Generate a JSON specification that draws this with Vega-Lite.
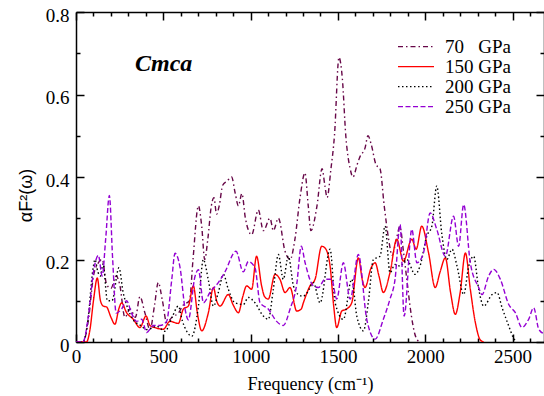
{
"$schema": "https://vega.github.io/schema/vega-lite/v6.json",
"width": 468, "height": 330,
"autosize": {"type": "none"},
"padding": {"left": 76, "top": 12, "right": 0, "bottom": 54},
"background": "white",
"config": {
  "view": {"stroke": null},
  "axis": {"grid": false, "domainColor": "black", "tickColor": "black", "labelColor": "black", "titleColor": "black", "domainWidth": 1.5, "tickWidth": 1.5, "labelFont": "Liberation Serif", "labelFontSize": 19, "titleFont": "Liberation Serif", "titleFontSize": 18, "titleFontWeight": "normal", "labelFlush": false, "labelOverlap": false},
  "legend": {"orient": "none", "legendX": 321, "legendY": 25.5, "symbolType": "stroke", "symbolSize": 1296, "symbolStrokeWidth": 1.4, "labelFont": "Liberation Serif", "labelFontSize": 19, "labelColor": "black", "labelOffset": 10, "clipHeight": 18.3, "rowPadding": 0, "padding": 0, "labelLimit": 300, "title": null}
},
"datasets": {
 "d": [
{"p":70,"x":0,"y":0},{"p":70,"x":40,"y":0},{"p":70,"x":70,"y":0.05},{"p":70,"x":100,"y":0.16},{"p":70,"x":125,"y":0.19},{"p":70,"x":150,"y":0.2},{"p":70,"x":175,"y":0.14},{"p":70,"x":200,"y":0.13},{"p":70,"x":230,"y":0.16},{"p":70,"x":250,"y":0.14},{"p":70,"x":280,"y":0.06},{"p":70,"x":310,"y":0.08},{"p":70,"x":340,"y":0.06},{"p":70,"x":366,"y":0.11},{"p":70,"x":395,"y":0.07},{"p":70,"x":424,"y":0.03},{"p":70,"x":450,"y":0.09},{"p":70,"x":471,"y":0.144},{"p":70,"x":495,"y":0.1},{"p":70,"x":519,"y":0.047},{"p":70,"x":550,"y":0.06},{"p":70,"x":586,"y":0.07},{"p":70,"x":615,"y":0.09},{"p":70,"x":650,"y":0.1},{"p":70,"x":670,"y":0.2},{"p":70,"x":701,"y":0.33},{"p":70,"x":720,"y":0.28},{"p":70,"x":737,"y":0.2},{"p":70,"x":755,"y":0.25},{"p":70,"x":775,"y":0.33},{"p":70,"x":790,"y":0.35},{"p":70,"x":805,"y":0.31},{"p":70,"x":820,"y":0.33},{"p":70,"x":840,"y":0.38},{"p":70,"x":865,"y":0.39},{"p":70,"x":891,"y":0.4},{"p":70,"x":912,"y":0.36},{"p":70,"x":930,"y":0.33},{"p":70,"x":950,"y":0.36},{"p":70,"x":970,"y":0.3},{"p":70,"x":1006,"y":0.26},{"p":70,"x":1044,"y":0.32},{"p":70,"x":1073,"y":0.27},{"p":70,"x":1111,"y":0.3},{"p":70,"x":1130,"y":0.27},{"p":70,"x":1159,"y":0.3},{"p":70,"x":1197,"y":0.22},{"p":70,"x":1226,"y":0.2},{"p":70,"x":1254,"y":0.25},{"p":70,"x":1283,"y":0.35},{"p":70,"x":1311,"y":0.41},{"p":70,"x":1330,"y":0.33},{"p":70,"x":1345,"y":0.27},{"p":70,"x":1380,"y":0.33},{"p":70,"x":1409,"y":0.42},{"p":70,"x":1425,"y":0.38},{"p":70,"x":1438,"y":0.35},{"p":70,"x":1460,"y":0.42},{"p":70,"x":1480,"y":0.5},{"p":70,"x":1506,"y":0.69},{"p":70,"x":1525,"y":0.64},{"p":70,"x":1545,"y":0.5},{"p":70,"x":1570,"y":0.42},{"p":70,"x":1586,"y":0.4},{"p":70,"x":1610,"y":0.43},{"p":70,"x":1627,"y":0.45},{"p":70,"x":1655,"y":0.47},{"p":70,"x":1672,"y":0.5},{"p":70,"x":1690,"y":0.48},{"p":70,"x":1718,"y":0.43},{"p":70,"x":1741,"y":0.42},{"p":70,"x":1765,"y":0.33},{"p":70,"x":1790,"y":0.25},{"p":70,"x":1810,"y":0.21},{"p":70,"x":1835,"y":0.25},{"p":70,"x":1855,"y":0.28},{"p":70,"x":1875,"y":0.22},{"p":70,"x":1895,"y":0.15},{"p":70,"x":1915,"y":0.08},{"p":70,"x":1940,"y":0.02},{"p":70,"x":1965,"y":0},
{"p":150,"x":0,"y":0},{"p":150,"x":60,"y":0},{"p":150,"x":80,"y":0.03},{"p":150,"x":100,"y":0.1},{"p":150,"x":122,"y":0.155},{"p":150,"x":140,"y":0.1},{"p":150,"x":157,"y":0.087},{"p":150,"x":175,"y":0.085},{"p":150,"x":200,"y":0.06},{"p":150,"x":223,"y":0.043},{"p":150,"x":245,"y":0.08},{"p":150,"x":261,"y":0.095},{"p":150,"x":290,"y":0.071},{"p":150,"x":328,"y":0.055},{"p":150,"x":366,"y":0.035},{"p":150,"x":401,"y":0.063},{"p":150,"x":424,"y":0.04},{"p":150,"x":452,"y":0.035},{"p":150,"x":500,"y":0.031},{"p":150,"x":538,"y":0.05},{"p":150,"x":586,"y":0.045},{"p":150,"x":615,"y":0.08},{"p":150,"x":643,"y":0.087},{"p":150,"x":672,"y":0.136},{"p":150,"x":695,"y":0.07},{"p":150,"x":720,"y":0.027},{"p":150,"x":758,"y":0.071},{"p":150,"x":787,"y":0.132},{"p":150,"x":805,"y":0.1},{"p":150,"x":825,"y":0.087},{"p":150,"x":872,"y":0.115},{"p":150,"x":900,"y":0.09},{"p":150,"x":930,"y":0.071},{"p":150,"x":955,"y":0.11},{"p":150,"x":977,"y":0.136},{"p":150,"x":1006,"y":0.128},{"p":150,"x":1034,"y":0.208},{"p":150,"x":1063,"y":0.136},{"p":150,"x":1080,"y":0.11},{"p":150,"x":1101,"y":0.104},{"p":150,"x":1140,"y":0.164},{"p":150,"x":1168,"y":0.152},{"p":150,"x":1197,"y":0.12},{"p":150,"x":1226,"y":0.132},{"p":150,"x":1264,"y":0.075},{"p":150,"x":1290,"y":0.08},{"p":150,"x":1302,"y":0.095},{"p":150,"x":1340,"y":0.136},{"p":150,"x":1369,"y":0.152},{"p":150,"x":1407,"y":0.232},{"p":150,"x":1426,"y":0.228},{"p":150,"x":1455,"y":0.184},{"p":150,"x":1475,"y":0.09},{"p":150,"x":1493,"y":0.035},{"p":150,"x":1522,"y":0.075},{"p":150,"x":1550,"y":0.08},{"p":150,"x":1579,"y":0.095},{"p":150,"x":1617,"y":0.204},{"p":150,"x":1640,"y":0.15},{"p":150,"x":1655,"y":0.132},{"p":150,"x":1690,"y":0.18},{"p":150,"x":1713,"y":0.192},{"p":150,"x":1735,"y":0.16},{"p":150,"x":1760,"y":0.12},{"p":150,"x":1798,"y":0.168},{"p":150,"x":1837,"y":0.249},{"p":150,"x":1875,"y":0.196},{"p":150,"x":1923,"y":0.249},{"p":150,"x":1948,"y":0.225},{"p":150,"x":1980,"y":0.281},{"p":150,"x":2019,"y":0.216},{"p":150,"x":2057,"y":0.132},{"p":150,"x":2085,"y":0.17},{"p":150,"x":2115,"y":0.204},{"p":150,"x":2145,"y":0.12},{"p":150,"x":2172,"y":0.067},{"p":150,"x":2200,"y":0.12},{"p":150,"x":2230,"y":0.216},{"p":150,"x":2258,"y":0.128},{"p":150,"x":2287,"y":0.047},{"p":150,"x":2315,"y":0.005},{"p":150,"x":2335,"y":0},
{"p":200,"x":0,"y":0},{"p":200,"x":40,"y":0},{"p":200,"x":70,"y":0.06},{"p":200,"x":95,"y":0.17},{"p":200,"x":109,"y":0.2},{"p":200,"x":125,"y":0.17},{"p":200,"x":140,"y":0.16},{"p":200,"x":155,"y":0.19},{"p":200,"x":180,"y":0.1},{"p":200,"x":206,"y":0.1},{"p":200,"x":246,"y":0.18},{"p":200,"x":270,"y":0.12},{"p":200,"x":292,"y":0.087},{"p":200,"x":328,"y":0.054},{"p":200,"x":370,"y":0.04},{"p":200,"x":405,"y":0.03},{"p":200,"x":462,"y":0.038},{"p":200,"x":510,"y":0.026},{"p":200,"x":550,"y":0.06},{"p":200,"x":586,"y":0.087},{"p":200,"x":610,"y":0.05},{"p":200,"x":634,"y":0.026},{"p":200,"x":663,"y":0.014},{"p":200,"x":701,"y":0.087},{"p":200,"x":729,"y":0.2},{"p":200,"x":758,"y":0.15},{"p":200,"x":787,"y":0.087},{"p":200,"x":815,"y":0.12},{"p":200,"x":844,"y":0.164},{"p":200,"x":872,"y":0.128},{"p":200,"x":910,"y":0.095},{"p":200,"x":958,"y":0.091},{"p":200,"x":987,"y":0.108},{"p":200,"x":1025,"y":0.095},{"p":200,"x":1073,"y":0.063},{"p":200,"x":1101,"y":0.055},{"p":200,"x":1130,"y":0.128},{"p":200,"x":1159,"y":0.212},{"p":200,"x":1187,"y":0.152},{"p":200,"x":1216,"y":0.208},{"p":200,"x":1245,"y":0.136},{"p":200,"x":1273,"y":0.115},{"p":200,"x":1300,"y":0.111},{"p":200,"x":1325,"y":0.12},{"p":200,"x":1359,"y":0.144},{"p":200,"x":1398,"y":0.095},{"p":200,"x":1455,"y":0.225},{"p":200,"x":1484,"y":0.095},{"p":200,"x":1531,"y":0.055},{"p":200,"x":1579,"y":0.152},{"p":200,"x":1608,"y":0.063},{"p":200,"x":1646,"y":0.027},{"p":200,"x":1675,"y":0.1},{"p":200,"x":1703,"y":0.2},{"p":200,"x":1741,"y":0.208},{"p":200,"x":1770,"y":0.281},{"p":200,"x":1798,"y":0.168},{"p":200,"x":1827,"y":0.188},{"p":200,"x":1856,"y":0.184},{"p":200,"x":1894,"y":0.2},{"p":200,"x":1942,"y":0.164},{"p":200,"x":1970,"y":0.184},{"p":200,"x":2009,"y":0.257},{"p":200,"x":2038,"y":0.281},{"p":200,"x":2066,"y":0.378},{"p":200,"x":2095,"y":0.261},{"p":200,"x":2124,"y":0.2},{"p":200,"x":2153,"y":0.225},{"p":200,"x":2182,"y":0.184},{"p":200,"x":2220,"y":0.115},{"p":200,"x":2249,"y":0.184},{"p":200,"x":2277,"y":0.208},{"p":200,"x":2306,"y":0.128},{"p":200,"x":2335,"y":0.087},{"p":200,"x":2383,"y":0.115},{"p":200,"x":2411,"y":0.12},{"p":200,"x":2440,"y":0.083},{"p":200,"x":2478,"y":0.039},{"p":200,"x":2505,"y":0.01},{"p":200,"x":2520,"y":0},
{"p":250,"x":0,"y":0},{"p":250,"x":40,"y":0},{"p":250,"x":70,"y":0.06},{"p":250,"x":100,"y":0.17},{"p":250,"x":128,"y":0.21},{"p":250,"x":150,"y":0.16},{"p":250,"x":170,"y":0.25},{"p":250,"x":191,"y":0.355},{"p":250,"x":210,"y":0.2},{"p":250,"x":230,"y":0.07},{"p":250,"x":261,"y":0.08},{"p":250,"x":290,"y":0.1},{"p":250,"x":318,"y":0.07},{"p":250,"x":347,"y":0.05},{"p":250,"x":376,"y":0.055},{"p":250,"x":405,"y":0.023},{"p":250,"x":443,"y":0.04},{"p":250,"x":481,"y":0.04},{"p":250,"x":519,"y":0.05},{"p":250,"x":548,"y":0.15},{"p":250,"x":567,"y":0.215},{"p":250,"x":596,"y":0.18},{"p":250,"x":625,"y":0.079},{"p":250,"x":643,"y":0.054},{"p":250,"x":682,"y":0.16},{"p":250,"x":701,"y":0.175},{"p":250,"x":730,"y":0.095},{"p":250,"x":767,"y":0.12},{"p":250,"x":815,"y":0.144},{"p":250,"x":853,"y":0.17},{"p":250,"x":916,"y":0.22},{"p":250,"x":958,"y":0.17},{"p":250,"x":987,"y":0.195},{"p":250,"x":1025,"y":0.18},{"p":250,"x":1054,"y":0.095},{"p":250,"x":1101,"y":0.08},{"p":250,"x":1149,"y":0.05},{"p":250,"x":1187,"y":0.04},{"p":250,"x":1226,"y":0.08},{"p":250,"x":1264,"y":0.14},{"p":250,"x":1290,"y":0.232},{"p":250,"x":1312,"y":0.192},{"p":250,"x":1359,"y":0.136},{"p":250,"x":1388,"y":0.132},{"p":250,"x":1426,"y":0.152},{"p":250,"x":1464,"y":0.152},{"p":250,"x":1493,"y":0.104},{"p":250,"x":1531,"y":0.192},{"p":250,"x":1570,"y":0.104},{"p":250,"x":1617,"y":0.212},{"p":250,"x":1665,"y":0.055},{"p":250,"x":1713,"y":0.007},{"p":250,"x":1760,"y":0.055},{"p":250,"x":1798,"y":0.104},{"p":250,"x":1827,"y":0.152},{"p":250,"x":1856,"y":0.285},{"p":250,"x":1879,"y":0.063},{"p":250,"x":1923,"y":0.273},{"p":250,"x":1952,"y":0.192},{"p":250,"x":1990,"y":0.216},{"p":250,"x":2028,"y":0.313},{"p":250,"x":2066,"y":0.273},{"p":250,"x":2115,"y":0.208},{"p":250,"x":2162,"y":0.305},{"p":250,"x":2191,"y":0.232},{"p":250,"x":2220,"y":0.333},{"p":250,"x":2258,"y":0.192},{"p":250,"x":2306,"y":0.132},{"p":250,"x":2325,"y":0.115},{"p":250,"x":2363,"y":0.16},{"p":250,"x":2392,"y":0.176},{"p":250,"x":2430,"y":0.152},{"p":250,"x":2478,"y":0.091},{"p":250,"x":2516,"y":0.071},{"p":250,"x":2554,"y":0.035},{"p":250,"x":2592,"y":0.055},{"p":250,"x":2621,"y":0.083},{"p":250,"x":2650,"y":0.031},{"p":250,"x":2680,"y":0.02}
 ]
},
"layer": [
 {
  "data": {"name": "d"},
  "transform": [{"filter": "datum.p == 70"}],
  "mark": {"type": "line", "interpolate": "monotone", "strokeWidth": 1.4, "clip": true},
  "encoding": {
   "x": {"field": "x", "type": "quantitative", "scale": {"domain": [0, 2680], "nice": false, "zero": false},
         "axis": {"orient": "bottom", "values": [0, 500, 1000, 1500, 2000, 2500], "format": "d", "tickSize": -8, "labelPadding": 13.5, "title": "Frequency (cm⁻¹)", "titleY": 47, "titleBaseline": "alphabetic"}},
   "y": {"field": "y", "type": "quantitative", "scale": {"domain": [0, 0.8], "nice": false},
         "axis": {"orient": "left", "values": [0, 0.2, 0.4, 0.6, 0.8], "format": "~g", "tickSize": -8, "labelPadding": 15, "labelOffset": 3, "title": "αF²(ω)", "titleFont": "Liberation Sans", "titleFontSize": 18, "titleX": -45, "titleY": 183, "titleBaseline": "alphabetic", "titleAngle": -90}},
   "color": {"field": "p", "type": "nominal", "scale": {"domain": [70, 150, 200, 250], "range": ["#670748", "#ff0000", "#000000", "#9400d3"]},
             "legend": {"labelExpr": "datum.value == 70 ? '70\u00a0\u00a0\u00a0GPa' : datum.label + ' GPa'"}},
   "strokeDash": {"field": "p", "type": "nominal", "scale": {"domain": [70, 150, 200, 250], "range": [[5, 3, 1.5, 3], [1, 0], [1.5, 2.5], [5, 2.5]]}}
  }
 },
 {
  "data": {"name": "d"},
  "transform": [{"filter": "datum.p == 150"}],
  "mark": {"type": "line", "interpolate": "monotone", "strokeWidth": 1.4, "clip": true},
  "encoding": {
   "x": {"field": "x", "type": "quantitative", "axis": {"orient": "top", "values": [0, 500, 1000, 1500, 2000, 2500], "tickSize": -8, "labels": false, "title": null}},
   "y": {"field": "y", "type": "quantitative", "axis": {"orient": "right", "values": [0, 0.2, 0.4, 0.6, 0.8], "tickSize": -8, "labels": false, "title": null}},
   "color": {"field": "p", "type": "nominal"},
   "strokeDash": {"field": "p", "type": "nominal"}
  }
 },
 {
  "data": {"name": "d"},
  "transform": [{"filter": "datum.p == 200"}],
  "mark": {"type": "line", "interpolate": "monotone", "strokeWidth": 1.4, "clip": true},
  "encoding": {
   "x": {"field": "x", "type": "quantitative", "axis": {"orient": "bottom", "values": [100, 200, 300, 400, 600, 700, 800, 900, 1100, 1200, 1300, 1400, 1600, 1700, 1800, 1900, 2100, 2200, 2300, 2400, 2600], "tickSize": -4, "labels": false, "domain": false, "title": null}},
   "y": {"field": "y", "type": "quantitative", "axis": {"orient": "left", "values": [0.1, 0.3, 0.5, 0.7], "tickSize": -4, "labels": false, "domain": false, "title": null}},
   "color": {"field": "p", "type": "nominal"},
   "strokeDash": {"field": "p", "type": "nominal"}
  }
 },
 {
  "data": {"name": "d"},
  "transform": [{"filter": "datum.p == 250"}],
  "mark": {"type": "line", "interpolate": "monotone", "strokeWidth": 1.4, "clip": true},
  "encoding": {
   "x": {"field": "x", "type": "quantitative", "axis": {"orient": "top", "values": [100, 200, 300, 400, 600, 700, 800, 900, 1100, 1200, 1300, 1400, 1600, 1700, 1800, 1900, 2100, 2200, 2300, 2400, 2600], "tickSize": -4, "labels": false, "domain": false, "title": null}},
   "y": {"field": "y", "type": "quantitative", "axis": {"orient": "right", "values": [0.1, 0.3, 0.5, 0.7], "tickSize": -4, "labels": false, "domain": false, "title": null}},
   "color": {"field": "p", "type": "nominal"},
   "strokeDash": {"field": "p", "type": "nominal"}
  }
 },
 {
  "data": {"values": [{"label": "Cmca", "x": 338, "y": 0.657}]},
  "mark": {"type": "text", "font": "Liberation Serif", "fontSize": 24, "fontStyle": "italic", "fontWeight": "bold", "align": "left", "baseline": "alphabetic", "color": "black"},
  "encoding": {
   "x": {"field": "x", "type": "quantitative", "axis": null},
   "y": {"field": "y", "type": "quantitative", "axis": null},
   "text": {"field": "label"}
  }
 }
],
"resolve": {"axis": {"x": "independent", "y": "independent"}}
}
